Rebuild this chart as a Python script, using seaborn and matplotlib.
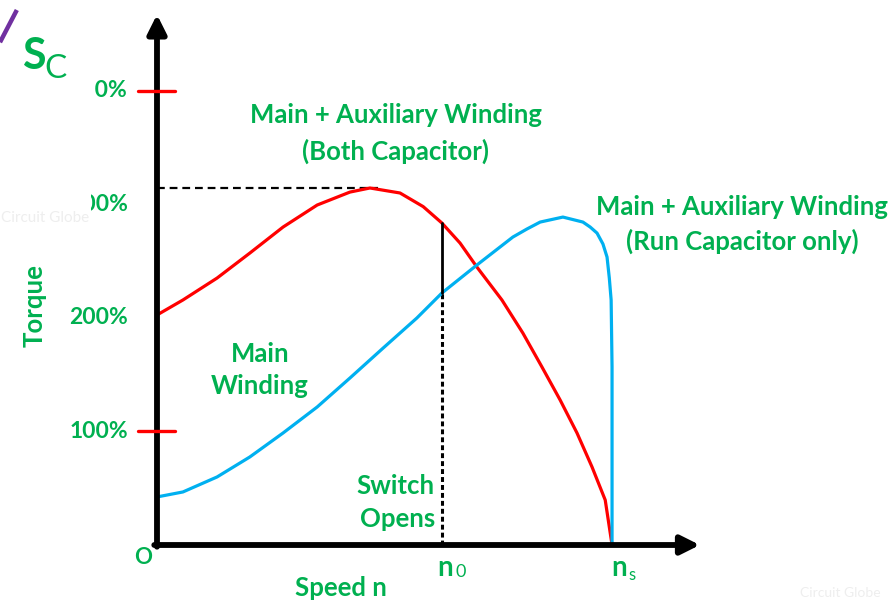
import numpy as np
import pandas as pd
import seaborn as sns
import matplotlib.pyplot as plt
from matplotlib.transforms import Bbox

# torque-speed curves (speed as fraction of ns, torque in %)
speed_both = [0.0, 0.057, 0.132, 0.204, 0.277, 0.352, 0.424, 0.468, 0.534, 0.585,
              0.626, 0.666, 0.703, 0.758, 0.804, 0.846, 0.886, 0.923, 0.956, 0.985, 1.0]
torque_both = [202.5, 215.7, 235.0, 257.0, 279.9, 299.3, 310.7, 314.3, 309.9, 297.9,
               283.5, 265.8, 244.7, 215.7, 186.6, 156.7, 127.6, 98.6, 68.7, 39.6, 0]

speed_run = [0.0, 0.057, 0.132, 0.204, 0.277, 0.352, 0.424, 0.497, 0.571, 0.626,
             0.703, 0.782, 0.813, 0.842, 0.892, 0.936, 0.952, 0.967, 0.980, 0.989,
             0.994, 0.998, 1.0, 1.0, 1.0]
torque_run = [42.3, 46.7, 59.9, 77.5, 98.6, 121.5, 147.0, 173.4, 199.8, 221.8,
              246.5, 271.1, 278.2, 284.3, 288.7, 284.3, 279.9, 274.6, 265.0, 253.5,
              235.0, 215.7, 156.7, 68.7, 0]

n0 = 0.626
torque_peak = 314.3
torque_n0_both = 283.5
torque_n0_run = 221.8
tick_values = [100, 200, 300, 400]
tick_labels = ["100%", "200%", "300%", "400%"]
red_ticks = [100, 400]

GREEN = "#00b050"
RED = "#ff0000"
BLUE = "#00b0f0"

sns.set_theme(style="white")
plt.rcParams['font.family'] = ['Lato', 'DejaVu Sans']

fig = plt.figure(figsize=(8.96, 6.01), dpi=100)
ax = fig.add_axes([0, 0, 1, 1])
ax.set_xlim(-0.345, 1.624)
ax.set_ylim(-49.3, 479.8)
ax.axis('off')

df_both = pd.DataFrame({"speed": speed_both, "torque": torque_both})
df_run = pd.DataFrame({"speed": speed_run, "torque": torque_run})
sns.lineplot(data=df_both, x="speed", y="torque", color=RED, lw=2.3,
             sort=False, estimator=None, ax=ax, zorder=3)
sns.lineplot(data=df_run, x="speed", y="torque", color=BLUE, lw=2.3,
             sort=False, estimator=None, ax=ax, zorder=3)

# axes arrows
arrow = dict(arrowstyle='-|>', lw=4.2, color='black', mutation_scale=28,
             shrinkA=0, shrinkB=0)
ax.annotate("", xy=(0, 467), xytext=(0, -1.5), arrowprops=arrow, zorder=5)
ax.annotate("", xy=(1.193, 0), xytext=(-0.006, 0), arrowprops=arrow, zorder=5)

# red tick marks
for t in red_ticks:
    ax.plot([-0.042, 0.04], [t, t], color=RED, lw=2.4, zorder=6)

# helper lines
ax.plot([0, 0.485], [torque_peak, torque_peak], color='black', lw=1.6,
        ls=(0, (3.5, 2.2)), zorder=2)
ax.plot([n0, n0], [torque_n0_run, torque_n0_both], color='black', lw=2.0, zorder=4)
ax.plot([n0, n0], [0, torque_n0_run], color='black', lw=2.2,
        ls=(0, (1.6, 1.0)), zorder=2)

txt = dict(color=GREEN, fontweight='bold', fontsize=18.5, ha='center', va='center')

# tick labels (top two are cut off in the reference)
clip_edges = {300: 91, 400: 95}
for v, lab in zip(tick_values, tick_labels):
    t = ax.text(-0.064, v, lab, color=GREEN, fontweight='bold', fontsize=16.5,
                ha='right', va='center')
    if v in clip_edges:
        t.set_clip_on(True)
        t.set_clip_box(Bbox.from_extents(clip_edges[v], 0, 896, 601))

ax.text(-0.031, -10.6, "O", **{**txt, 'fontsize': 16})
ax.text(0.633, -20, "n", **{**txt, 'fontsize': 20})
ax.text(0.667, -23.5, "0", **{**txt, 'fontsize': 13, 'fontweight': 'normal'})
ax.text(1.015, -20, "n", **{**txt, 'fontsize': 20})
ax.text(1.045, -26, "s", **{**txt, 'fontsize': 12, 'fontweight': 'normal'})
ax.text(0.404, -37.9, "Speed n", **txt)
ax.text(-0.268, 211, "Torque", rotation=90, **txt)

ax.text(0.525, 378.5, "Main + Auxiliary Winding", **txt)
ax.text(0.525, 346.8, "(Both Capacitor)", **txt)
ax.text(1.286, 297.5, "Main + Auxiliary Winding", **txt)
ax.text(1.286, 267.6, "(Run Capacitor only)", **txt)
ax.text(0.226, 168, "Main", **txt)
ax.text(0.226, 140, "Winding", **txt)
ax.text(0.525, 52, "Switch", **txt)
ax.text(0.528, 22.9, "Opens", **txt)

# top-left fragment
ax.text(-0.270, 430.5, "S", color=GREEN, fontweight='bold', fontsize=31,
        ha='center', va='center')
ax.text(-0.222, 419, "C", color=GREEN, fontsize=24, ha='center', va='center')
ax.plot([-0.345, -0.308], [442.6, 471], color="#7030a0", lw=3.2,
        solid_capstyle='butt')

# faint watermarks
ax.text(-0.343, 288, "Circuit Globe", color="#eeeeee", fontsize=11,
        ha='left', va='center')
ax.text(1.501, -42.3, "Circuit Globe", color="#eeeeee", fontsize=10,
        ha='center', va='center')

plt.savefig('out.png', dpi=100)
plt.close()
